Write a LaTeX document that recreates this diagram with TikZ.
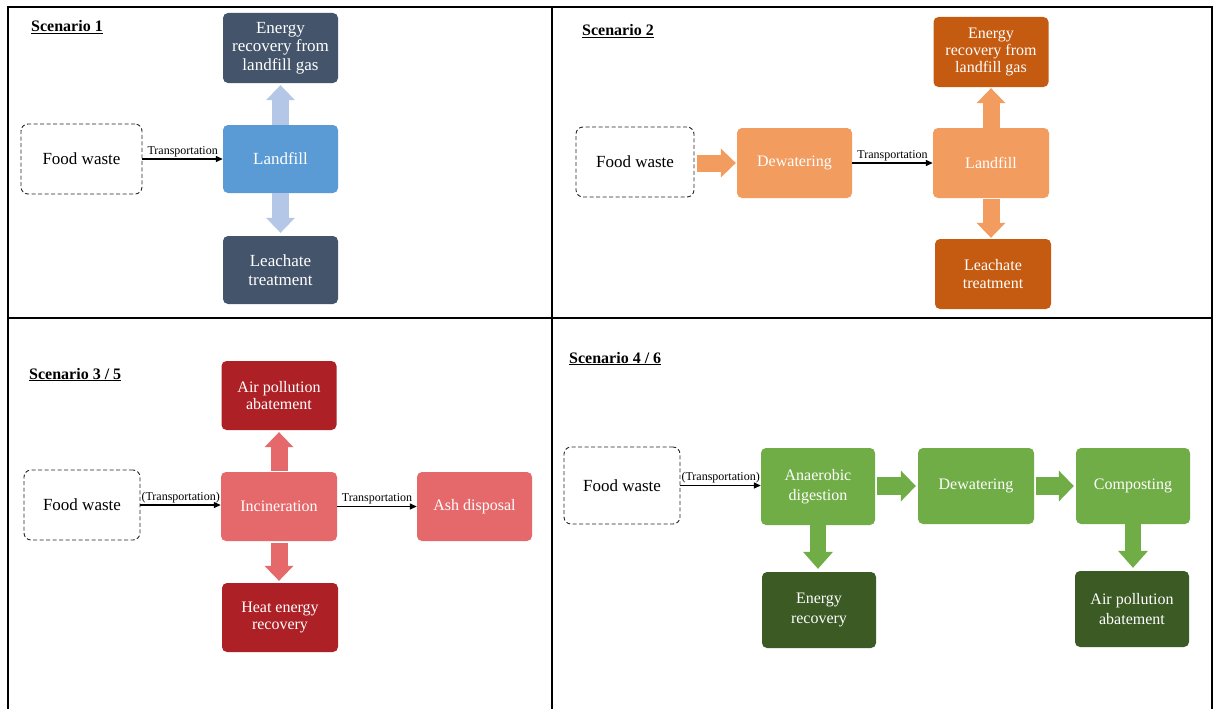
\documentclass[tikz,border=0pt]{standalone}
\usepackage{fontspec}
\setmainfont{Liberation Serif}
\usetikzlibrary{arrows.meta}
\definecolor{sdark}{HTML}{44546A}
\definecolor{sblue}{HTML}{5B9BD5}
\definecolor{sblueA}{HTML}{B4C7E7}
\definecolor{olight}{HTML}{F29C5F}
\definecolor{odark}{HTML}{C55A11}
\definecolor{rlight}{HTML}{E5696B}
\definecolor{rdark}{HTML}{AD2126}
\definecolor{glight}{HTML}{70AD47}
\definecolor{gdark}{HTML}{3B5A24}
\begin{document}
\begin{tikzpicture}[x=1pt,y=-1pt,
  box/.style={rectangle, rounded corners=5pt, text=white, align=center, inner sep=2pt},
  sz/.style 2 args={minimum width=#1pt, minimum height=#2pt},
  fwbox/.style={rectangle, rounded corners=7pt, draw=black!85, dash pattern=on 4pt off 2.5pt, line width=0.9pt, font=\fontsize{17}{19}\selectfont, inner sep=0pt},
  flow/.style={line width=1.3pt, -{Triangle[length=7pt,width=6pt]}},
  lbl/.style={above, inner sep=1.5pt, font=\fontsize{12}{13}\selectfont},
  blk/.style={line width=17pt, -{Triangle[length=15pt,width=29pt,line width=0pt]}},
  frameline/.style={line width=1.6pt, line cap=rect},
  ttl/.style={anchor=base west, inner sep=0pt, font=\bfseries\fontsize{16}{18}\selectfont}
]
\useasboundingbox (0,0) rectangle (1215,709);
\fill[white] (0,0) rectangle (1215,709);

% frame
\draw[frameline] (8,7) -- (1212,7);
\draw[frameline] (8,7) -- (8,709);
\draw[frameline] (1212,7) -- (1212,709);
\draw[frameline] (8,318) -- (1212,318);
\draw[frameline] (552,7) -- (552,709);

% ---------- Scenario 1 ----------
\node[ttl] (t1) at (31,32) {\underline{Scenario 1}};
\node[fwbox, sz={121}{70}] (fw1) at (81.5,159) {Food waste};
\node[box, sz={115}{68}, fill=sblue, font=\fontsize{17}{19}\selectfont] (lf1) at (280.5,159) {Landfill};
\node[box, sz={115}{70}, fill=sdark, font=\fontsize{17}{18.7}\selectfont] (en1) at (280.5,48) {Energy\\recovery from\\landfill gas};
\node[box, sz={115}{68}, fill=sdark, font=\fontsize{17}{18.7}\selectfont] (le1) at (280.5,270) {Leachate\\treatment};
\draw[flow] (fw1.east) -- (lf1.west) node[lbl, midway] {Transportation};
\draw[blk, draw=sblueA, shorten >=2pt] (lf1.north) -- (en1.south);
\draw[blk, draw=sblueA, shorten >=3pt] (lf1.south) -- (le1.north);

% ---------- Scenario 2 ----------
\node[ttl] (t2) at (582,36) {\underline{Scenario 2}};
\node[fwbox, sz={118}{70}] (fw2) at (635,162) {Food waste};
\node[box, sz={115}{70}, fill=olight, font=\fontsize{16}{18}\selectfont] (dw2) at (794.5,163) {Dewatering};
\node[box, sz={116}{70}, fill=olight, font=\fontsize{16}{18}\selectfont] (lf2) at (991,163) {Landfill};
\node[box, sz={115}{70}, fill=odark, font=\fontsize{16}{17.3}\selectfont] (en2) at (991,52) {Energy\\recovery from\\landfill gas};
\node[box, sz={116}{70}, fill=odark, font=\fontsize{16}{17.5}\selectfont] (le2) at (993,274) {Leachate\\treatment};
\draw[blk, draw=olight, shorten <=3pt, shorten >=1pt] (dw2.west -| fw2.east) -- (dw2.west);
\draw[flow] (dw2.east) -- (lf2.west) node[lbl, midway] {Transportation};
\draw[blk, draw=olight, shorten >=1pt] (lf2.north) -- (en2.south);
\draw[blk, draw=olight, shorten <=1pt, shorten >=1pt] (lf2.south) -- (lf2.south |- le2.north);

% ---------- Scenario 3 / 5 ----------
\node[ttl] (t3) at (29,379) {\underline{Scenario 3 / 5}};
\node[fwbox, sz={116}{70}] (fw3) at (82,505) {Food waste};
\node[box, sz={116}{69}, fill=rlight, font=\fontsize{16}{18}\selectfont] (in3) at (279,506.5) {Incineration};
\node[box, sz={115}{69}, fill=rdark, font=\fontsize{16}{17.5}\selectfont] (ap3) at (279,395.5) {Air pollution\\abatement};
\node[box, sz={116}{69}, fill=rdark, font=\fontsize{16}{17.5}\selectfont] (he3) at (280,617.5) {Heat energy\\recovery};
\node[box, sz={115}{69}, fill=rlight, font=\fontsize{16}{18}\selectfont] (ash3) at (474.5,506.5) {Ash disposal};
\draw[flow] (fw3.east) -- (fw3.east -| in3.west) node[lbl, midway] {(Transportation)};
\draw[flow] (in3.east) -- (ash3.west) node[lbl, midway] {Transportation};
\draw[blk, draw=rlight, shorten <=1pt, shorten >=2pt] (in3.north) -- (ap3.south);
\draw[blk, draw=rlight, shorten <=2pt, shorten >=2pt] (in3.south) -- (in3.south |- he3.north);

% ---------- Scenario 4 / 6 ----------
\node[ttl] (t4) at (569,363) {\underline{Scenario 4 / 6}};
\node[fwbox, sz={116}{77}] (fw4) at (622,485.5) {Food waste};
\node[box, sz={114}{77}, fill=glight, font=\fontsize{16}{19.5}\selectfont] (ad4) at (818,486.5) {Anaerobic\\digestion};
\node[box, sz={116}{76}, fill=glight, font=\fontsize{16}{19}\selectfont] (dw4) at (976,486) {Dewatering};
\node[box, sz={114}{76}, fill=glight, font=\fontsize{16}{19}\selectfont] (co4) at (1133,486) {Composting};
\node[box, sz={114}{76}, fill=gdark, font=\fontsize{16}{19.5}\selectfont] (er4) at (819,610) {Energy\\recovery};
\node[box, sz={114}{76}, fill=gdark, font=\fontsize{16}{19.5}\selectfont] (ap4) at (1132,609) {Air pollution\\abatement};
\draw[flow] (fw4.east) -- (fw4.east -| ad4.west) node[lbl, midway] {(Transportation)};
\draw[blk, line width=18pt, -{Triangle[length=15pt,width=31pt,line width=0pt]}, draw=glight, shorten <=2pt, shorten >=2pt] (dw4.west -| ad4.east) -- (dw4.west);
\draw[blk, line width=18pt, -{Triangle[length=15pt,width=31pt,line width=0pt]}, draw=glight, shorten <=2pt, shorten >=2pt] (dw4.east) -- (co4.west);
\draw[blk, line width=16pt, -{Triangle[length=17pt,width=30pt,line width=0pt]}, draw=glight, shorten >=3pt] (ad4.south) -- (ad4.south |- er4.north);
\draw[blk, line width=16pt, -{Triangle[length=17pt,width=30pt,line width=0pt]}, draw=glight, shorten >=3pt] (co4.south) -- (co4.south |- ap4.north);
\end{tikzpicture}
\end{document}
